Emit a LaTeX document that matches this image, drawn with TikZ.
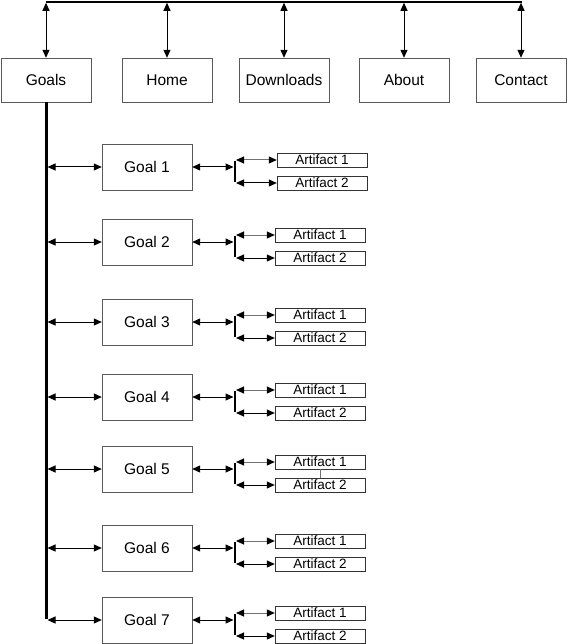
\documentclass[tikz,border=0pt]{standalone}
\usepackage{fontspec}
\setmainfont{Liberation Sans}
\usetikzlibrary{arrows.meta}
\tikzset{
	pagebox/.style = {draw=black!65, minimum width=90pt, minimum height=44pt, inner sep=0pt, font=\fontsize{15.5}{17}\selectfont},
	goalbox/.style = {draw=black!65, minimum width=90pt, minimum height=46pt, inner sep=0pt, font=\fontsize{15.5}{17}\selectfont},
	artbox/.style = {draw=black!80, minimum width=90pt, minimum height=14.5pt, inner sep=0pt, font=\fontsize{13.5}{14}\selectfont},
	link/.style = {line width=1pt, <->},
	greylink/.style = {line width=1pt, black!55, {Triangle[length=8pt,width=7pt,color=black]}-{Triangle[length=8pt,width=7pt,color=black]}},
	spine/.style = {line width=3pt},
	fork/.style = {line width=2.4pt}
}
\begin{document}
\begin{tikzpicture}[x=1pt, y=-1pt, >={Triangle[length=8pt,width=7pt]}]
	\useasboundingbox (0,0) rectangle (568,644);
	% top row of pages
	\node [pagebox] (goals) at (46,80) {Goals};
	\node [pagebox] (home) at (167,80) {Home};
	\node [pagebox] (downloads) at (284,80) {Downloads};
	\node [pagebox] (about) at (404,80) {About};
	\node [pagebox] (contact) at (521,80) {Contact};
	\coordinate (bar) at (0,2);
	\draw [line width=1.6pt] ([xshift=-0.5pt]goals.north |- bar) -- ([xshift=0.5pt]contact.north |- bar);
	\foreach \p in {goals, home, downloads, about, contact}
		\draw [link] ([yshift=-0.8pt]\p.north |- bar) -- (\p.north);
	% goals and their artifacts
	\foreach \i/\y/\ax in {1/167/322, 2/242/320, 3/322/320, 4/397/320, 5/469/320, 6/548/320, 7/620/320} {
		\node [goalbox] (goal\i) at (147,\y) {Goal \i};
		\coordinate (fork\i) at (235,\y);
		\node [artbox] (art\i a) at (\ax,\y-7) {Artifact 1};
		\node [artbox] (art\i b) at (\ax,\y+16) {Artifact 2};
		\draw [link] ([xshift=1.5pt]goals.south |- goal\i.west) -- (goal\i.west);
		\draw [link] (goal\i.east) -- ([xshift=-1.5pt]fork\i);
		\draw [fork] ([yshift=-1pt]fork\i |- art\i a.west) -- ([yshift=1pt]fork\i |- art\i b.west);
		\draw [greylink] ([xshift=1pt]fork\i |- art\i a.west) -- (art\i a.west);
		\draw [link] ([xshift=1pt]fork\i |- art\i b.west) -- (art\i b.west);
	}
	\draw [black!55, line width=0.8pt] (art5a.south) -- (art5b.north);
	\draw [spine] (goals.south) -- ([yshift=1.5pt]goals.south |- goal7.west);
\end{tikzpicture}
\end{document}
